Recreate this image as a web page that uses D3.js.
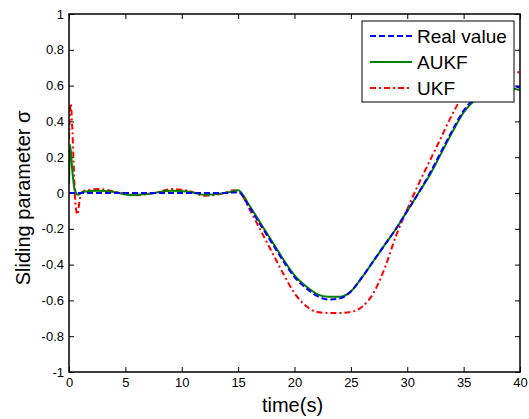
<!DOCTYPE html>
<html>
<head>
<meta charset="utf-8">
<script src="https://cdn.jsdelivr.net/npm/d3@7"></script>
<style>
  body { margin: 0; background: #fff; }
  svg { display: block; font-family: "Liberation Sans", Arial, Helvetica, sans-serif; }
</style>
</head>
<body>
<div class="chart"></div>
<script>
// data
const realT = [0, 2, 5, 8, 11, 14, 15, 16, 17, 18, 19, 20, 21, 22, 23, 24, 25, 26, 27, 28, 29, 30, 31, 32, 33, 34, 35, 36, 37, 38, 39, 40];
const realV = [0, 0, 0, 0, 0, 0, 0.005, -0.08, -0.18, -0.28, -0.38, -0.47, -0.53, -0.575, -0.595, -0.59, -0.55, -0.47, -0.38, -0.29, -0.2, -0.1, 0.0, 0.11, 0.23, 0.35, 0.46, 0.53, 0.57, 0.59, 0.6, 0.59];

const aukfT = [0, 0.1, 0.3, 0.5, 0.8, 1.2, 2.5, 4, 5.5, 7, 9, 10.5, 12, 13.5, 14.5, 15, 16, 17, 18, 19, 20, 21, 22, 23, 24, 25, 26, 27, 28, 29, 30, 31, 32, 33, 34, 35, 36, 37, 38, 39, 40];
const aukfV = [0.05, 0.27, 0.12, 0.02, -0.01, 0.005, 0.012, 0.005, -0.012, -0.005, 0.013, 0.008, -0.01, -0.003, 0.008, 0.015, -0.07, -0.17, -0.27, -0.37, -0.46, -0.52, -0.565, -0.58, -0.58, -0.55, -0.47, -0.38, -0.29, -0.2, -0.1, 0.0, 0.1, 0.22, 0.34, 0.45, 0.52, 0.56, 0.58, 0.585, 0.575];

const ukfT = [0, 0.15, 0.3, 0.45, 0.6, 0.75, 0.9, 1.1, 1.5, 2.7, 4.2, 6, 7.5, 9.2, 10.7, 12, 13.5, 14.6, 15, 16, 17, 18, 19, 20, 21, 22, 23, 24, 25, 26, 27, 28, 29, 30, 31, 32, 33, 34, 35, 36, 37, 38, 39, 40];
const ukfV = [0.3, 0.5, 0.35, 0.1, -0.08, -0.12, -0.06, 0.0, 0.015, 0.022, 0.006, -0.012, 0.0, 0.022, 0.01, -0.015, -0.005, 0.015, 0.012, -0.09, -0.21, -0.33, -0.45, -0.56, -0.63, -0.665, -0.67, -0.67, -0.665, -0.635, -0.56, -0.42, -0.24, -0.09, 0.05, 0.18, 0.31, 0.44, 0.55, 0.62, 0.66, 0.675, 0.675, 0.675];

const xTicks = [0, 5, 10, 15, 20, 25, 30, 35, 40];
const yTicks = [-1, -0.8, -0.6, -0.4, -0.2, 0, 0.2, 0.4, 0.6, 0.8, 1];

const seriesNames = ["Real value", "AUKF", "UKF"];

const W = 529, H = 419;
const margin = { top: 14, left: 69, right: 9, bottom: 47 };
const width = W - margin.left - margin.right;
const height = H - margin.top - margin.bottom;

const svg = d3.select(".chart")
  .append("svg")
  .attr("width", W)
  .attr("height", H);

const g = svg.append("g")
  .attr("transform", `translate(${margin.left}, ${margin.top})`);

const xScale = d3.scaleLinear().domain([0, 40]).range([0, width]);
const yScale = d3.scaleLinear().domain([-1, 1]).range([height, 0]);

const fmt = d => d === 0 ? "0" : String(d);

function styleAxis(sel) {
  sel.select(".domain").remove();
  sel.selectAll("line").attr("stroke", "#000").attr("stroke-width", 1);
  sel.selectAll("text").attr("fill", "#000").attr("font-size", 13)
    .attr("font-family", "Liberation Sans, Arial, sans-serif");
}

g.append("g").attr("transform", `translate(0,${height})`)
  .call(d3.axisBottom(xScale).tickValues(xTicks).tickFormat(fmt).tickSizeInner(-5).tickSizeOuter(0).tickPadding(6))
  .call(styleAxis);
g.append("g")
  .call(d3.axisTop(xScale).tickValues(xTicks).tickFormat("").tickSizeInner(-5).tickSizeOuter(0))
  .call(styleAxis);
g.append("g")
  .call(d3.axisLeft(yScale).tickValues(yTicks).tickFormat(fmt).tickSizeInner(-5).tickSizeOuter(0).tickPadding(5))
  .call(styleAxis);
g.append("g").attr("transform", `translate(${width},0)`)
  .call(d3.axisRight(yScale).tickValues(yTicks).tickFormat("").tickSizeInner(-5).tickSizeOuter(0))
  .call(styleAxis);

const line = d3.line()
  .x(d => xScale(d[0]))
  .y(d => yScale(d[1]))
  .curve(d3.curveMonotoneX);

const series = [
  { name: seriesNames[0], pts: d3.zip(realT, realV), color: "#0000ff", dash: "6,3" },
  { name: seriesNames[1], pts: d3.zip(aukfT, aukfV), color: "#008000", dash: null },
  { name: seriesNames[2], pts: d3.zip(ukfT, ukfV), color: "#ff0000", dash: "6,3,2,3" }
];

g.append("clipPath").attr("id", "clip")
  .append("rect").attr("width", width).attr("height", height);

// draw real value on top of the others, like the figure
const drawOrder = [series[2], series[1], series[0]];
g.append("g").attr("clip-path", "url(#clip)")
  .selectAll("path")
  .data(drawOrder)
  .join("path")
  .attr("fill", "none")
  .attr("stroke", d => d.color)
  .attr("stroke-width", 2)
  .attr("stroke-dasharray", d => d.dash)
  .attr("d", d => line(d.pts));

// frame
g.append("rect")
  .attr("width", width).attr("height", height)
  .attr("fill", "none").attr("stroke", "#000").attr("stroke-width", 1.5);

// legend
const lg = g.append("g").attr("transform", `translate(${362 - margin.left}, ${21 - margin.top})`);
lg.append("rect").attr("width", 152).attr("height", 81)
  .attr("fill", "#fff").attr("stroke", "#000").attr("stroke-width", 1);
series.forEach((s, i) => {
  const y = 15 + i * 26;
  lg.append("line").attr("x1", 8).attr("x2", 50).attr("y1", y).attr("y2", y)
    .attr("stroke", s.color).attr("stroke-width", 2).attr("stroke-dasharray", s.dash);
  lg.append("text").attr("x", 55).attr("y", y).attr("dy", "0.35em")
    .attr("font-size", 19).attr("fill", "#000").text(s.name);
});

// axis labels
svg.append("text")
  .attr("transform", `translate(30, 198) rotate(-90)`)
  .attr("text-anchor", "middle")
  .attr("font-size", 20)
  .text("Sliding parameter σ");

svg.append("text")
  .attr("x", margin.left + width / 2 - 2)
  .attr("y", 412)
  .attr("text-anchor", "middle")
  .attr("font-size", 20)
  .text("time(s)");
</script>
</body>
</html>
